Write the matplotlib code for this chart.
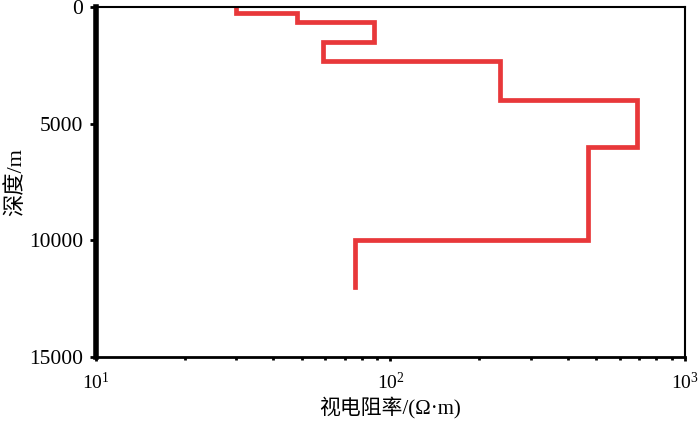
import numpy as np
import matplotlib
matplotlib.use("Agg")
from matplotlib import pyplot as plt

plt.rcParams['font.family'] = ['Liberation Serif', 'Noto Sans CJK SC']
plt.rcParams['mathtext.fontset'] = 'stix'

# layer model: resistivity (ohm.m) and layer top / bottom depth (m)
resistivity = [30, 48, 88, 59, 235, 687, 469, 76]
layer_top = [0, 250, 650, 1500, 2300, 4000, 6000, 10000]
layer_bottom = [250, 650, 1500, 2300, 4000, 6000, 10000, 12000]

xs = np.repeat(resistivity, 2)
ys = np.column_stack([layer_top, layer_bottom]).ravel()

fig = plt.figure(figsize=(7, 4.22), dpi=100)
ax = fig.add_axes([0.137, 0.154, 0.8416, 0.829])
ax.plot(xs, ys, color='#e8383a', lw=3.4, solid_joinstyle='miter')

ax.set_xscale('log')
ax.set_xlim(10, 1000)
ax.set_ylim(15000, 0)
ax.set_yticks([0, 5000, 10000, 15000])

ax.spines['left'].set_linewidth(4)
ax.spines['bottom'].set_linewidth(2)
ax.spines['top'].set_linewidth(1.5)
ax.spines['right'].set_linewidth(1.5)

ax.tick_params(axis='y', which='major', direction='out', length=4, width=2,
               labelsize=15.5, pad=5)
ax.tick_params(axis='x', which='major', direction='out', length=3, width=2,
               labelsize=14, pad=8)
ax.tick_params(axis='x', which='minor', direction='out', length=2, width=2)

ax.set_xlabel('视电阻率/(Ω·m)', fontsize=15, labelpad=2)
ax.set_ylabel('深度/m', fontsize=16, labelpad=2)

fig.savefig('out.png', dpi=100)
